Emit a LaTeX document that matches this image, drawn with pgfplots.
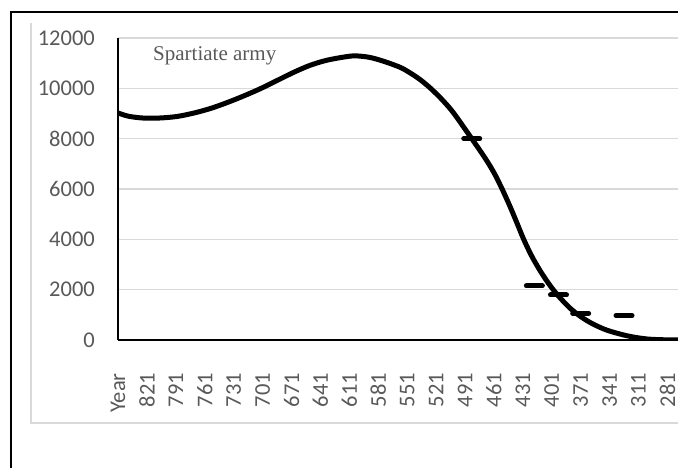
\documentclass[border=0pt]{standalone}
\usepackage{fontspec}
\setmainfont{Carlito}
\newfontfamily\timesfont{Liberation Serif}
\usepackage{pgfplots}
\usepackage{pgfplotstable}
\pgfplotsset{compat=1.18}
\definecolor{tickgray}{HTML}{595959}
\definecolor{gridgray}{HTML}{D9D9D9}

% fitted curve, year BC vs number of Spartiates
\pgfplotstableread{
year army
851 9020
840 8890
825 8820
808 8820
790 8880
772 9020
755 9200
738 9430
721 9690
703 9990
686 10310
669 10630
652 10910
635 11110
617 11240
605 11290
590 11230
575 11070
558 10830
547 10590
537 10330
527 10010
517 9640
507 9220
499 8820
484 8000
476 7560
468 7100
460 6580
452 5960
444 5280
437 4640
430 3990
422 3350
413 2750
404 2230
395 1790
383 1300
371 930
358 630
343 380
322 160
302 40
281 5
265 0
}\curve

% recorded figures
\pgfplotstableread{
year army
484 8000
419 2150
394 1790
371 1060
326 970
}\records

\begin{document}
\begin{tikzpicture}[x=1bp,y=1bp]
\useasboundingbox (0,0) rectangle (678,468);
\clip (0,0) rectangle (678,468);
\draw[gridgray, line width=1.5bp] (31,445) -- (31,45) -- (690,45);
\draw[black, line width=2bp] (11,-5) -- (11,455.5) -- (690,455.5);
\begin{axis}[
  at={(118bp,128bp)}, anchor=south west,
  scale only axis, width=560bp, height=302bp,
  xmin=-851, xmax=-270,
  ymin=0, ymax=12000,
  axis x line=bottom, axis y line=left,
  axis line style={line width=2bp, -},
  major tick length=0pt,
  xtick={-851,-821,...,-281},
  xticklabels={Year,821,791,761,731,701,671,641,611,581,551,521,491,461,431,401,371,341,311,281},
  ytick={0,2000,...,12000},
  scaled ticks=false,
  ymajorgrids,
  grid style={gridgray, line width=1.5bp},
  /pgf/number format/1000 sep={},
  /pgf/number format/assume math mode=true,
  tick label style={font=\fontsize{22.5bp}{27bp}\selectfont, text=tickgray, inner sep=0pt},
  xticklabel style={rotate=90, anchor=east},
  xticklabel shift=33bp,
  yticklabel shift=23bp,
]
\addplot[black, line width=5bp, smooth, line cap=round] table[x expr=-\thisrow{year}, y=army] {\curve};
\addplot[only marks, mark=-, mark size=8bp, mark options={black, line width=5bp, line cap=round}]
  table[x expr=-\thisrow{year}, y=army] {\records};
\node[anchor=base west, inner sep=0pt, text=tickgray, font=\timesfont\fontsize{21bp}{25bp}\selectfont]
  at (rel axis cs:0.0625,0.927) {Spartiate army};
\end{axis}
\end{tikzpicture}
\end{document}
